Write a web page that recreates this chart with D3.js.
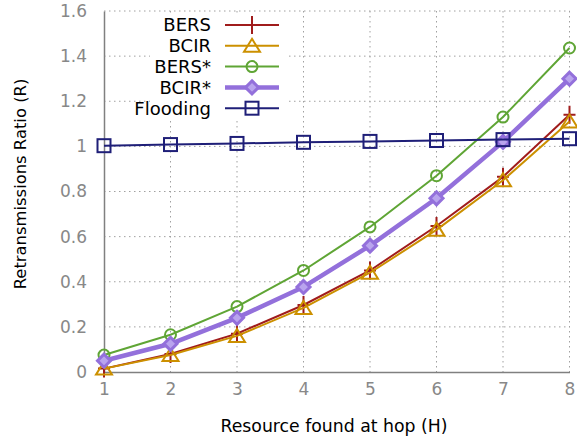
<!DOCTYPE html>
<html><head><meta charset="utf-8">
<script src="https://cdn.jsdelivr.net/npm/d3@7"></script>
<style>body{margin:0;background:#fff}svg{display:block}</style>
</head><body>
<svg id="c" width="577" height="445"></svg>
<script>
const hops = [1,2,3,4,5,6,7,8];
const bers = [0.015,0.08,0.17,0.297,0.45,0.647,0.865,1.14];
const bcir = [0.015,0.075,0.16,0.284,0.44,0.63,0.85,1.11];
const bersStar = [0.075,0.165,0.29,0.45,0.643,0.87,1.13,1.436];
const bcirStar = [0.05,0.125,0.24,0.377,0.56,0.77,1.02,1.30];
const flooding = [1.003,1.008,1.013,1.018,1.022,1.026,1.03,1.034];
const seriesNames = ["BERS","BCIR","BERS*","BCIR*","Flooding"];
const yTicks = [0,0.2,0.4,0.6,0.8,1,1.2,1.4,1.6];
const xTicks = [1,2,3,4,5,6,7,8];

const styles = {
  "BERS":{color:"#a01c1c",w:2,m:"plus"},
  "BCIR":{color:"#cc9000",w:2,m:"tri"},
  "BERS*":{color:"#5fa535",w:2,m:"circ"},
  "BCIR*":{color:"#9370db",w:4.5,m:"diam"},
  "Flooding":{color:"#1f1f78",w:2,m:"sq"}
};
const values = {"BERS":bers,"BCIR":bcir,"BERS*":bersStar,"BCIR*":bcirStar,"Flooding":flooding};

const svg = d3.select("#c");
const L=104,R=569.5,T=11,B=372;
const x = d3.scaleLinear().domain([1,8]).range([L,R]);
const y = d3.scaleLinear().domain([0,1.6]).range([B,T]);
const font = "DejaVu Sans, Verdana, sans-serif";

// grid
const g = svg.append("g");
g.selectAll("line.h").data(yTicks.slice(1)).enter().append("line")
  .attr("x1",L).attr("x2",R).attr("y1",d=>y(d)).attr("y2",d=>y(d))
  .attr("stroke","#a0a0a0").attr("stroke-width",1).attr("stroke-dasharray","1.5,3.5");
g.selectAll("line.v").data(xTicks.slice(1)).enter().append("line")
  .attr("x1",d=>x(d)).attr("x2",d=>x(d)).attr("y1",T).attr("y2",B)
  .attr("stroke","#a0a0a0").attr("stroke-width",1).attr("stroke-dasharray","1.5,3.5");

// legend background
const lgX0=150, lgY0=14;
svg.append("rect").attr("x",lgX0).attr("y",lgY0).attr("width",137).attr("height",104).attr("fill","#fff");

// axes
const xAxis = d3.axisBottom(x).tickValues(xTicks).tickFormat(d3.format("d")).tickSizeInner(0).tickSizeOuter(0).tickPadding(11);
const yAxis = d3.axisLeft(y).tickValues(yTicks).tickFormat(d=>String(d)).tickSizeInner(0).tickSizeOuter(0).tickPadding(17);
const gx = svg.append("g").attr("transform",`translate(0,${B})`).call(xAxis);
const gy = svg.append("g").attr("transform",`translate(${L},0)`).call(yAxis);
[gx,gy].forEach(a=>{
  a.select(".domain").attr("stroke","#808080").attr("stroke-width",1.5);
  a.selectAll("text").attr("fill","#888").attr("font-family",font).attr("font-size",17);
});
gx.selectAll("text").attr("dy","0.71em");

svg.append("text").attr("x",334).attr("y",432).attr("text-anchor","middle")
  .attr("font-family",font).attr("font-size",17.3).attr("fill","#000").text("Resource found at hop (H)");
svg.append("text").attr("transform",`translate(26,184) rotate(-90)`).attr("text-anchor","middle")
  .attr("font-family",font).attr("font-size",16.4).attr("fill","#000").text("Retransmissions Ratio (R)");

function marker(sel, type, color, cx, cy){
  const gg = sel.append("g").attr("transform",`translate(${cx},${cy})`);
  if(type==="plus"){
    gg.append("path").attr("d","M-6,0H6M0,-9V9").attr("stroke",color).attr("stroke-width",2).attr("fill","none");
  } else if(type==="tri"){
    gg.append("path").attr("d","M0,-7L8,6H-8Z").attr("stroke",color).attr("stroke-width",2).attr("fill","none");
  } else if(type==="circ"){
    gg.append("circle").attr("r",5.5).attr("stroke",color).attr("stroke-width",2).attr("fill","none");
  } else if(type==="diam"){
    gg.append("path").attr("d","M0,-6.5L6.5,0L0,6.5L-6.5,0Z").attr("stroke",color).attr("stroke-width",3).attr("fill","#b9a4ee");
  } else if(type==="sq"){
    gg.append("rect").attr("x",-6.5).attr("y",-6.5).attr("width",13).attr("height",13).attr("stroke",color).attr("stroke-width",2).attr("fill","none");
  }
}

const line = d3.line().x((d,i)=>x(hops[i])).y(d=>y(d));
const plot = svg.append("g");
seriesNames.forEach(n=>{
  const s = styles[n];
  plot.append("path").datum(values[n]).attr("d",line).attr("fill","none")
    .attr("stroke",s.color).attr("stroke-width",s.w).attr("stroke-linejoin","round");
  values[n].forEach((v,i)=>marker(plot,s.m,s.color,x(hops[i]),y(v)));
});

// legend
const lg = svg.append("g");
seriesNames.forEach((n,i)=>{
  const s = styles[n];
  const yy = 25 + i*20.8;
  lg.append("text").attr("x",211).attr("y",yy).attr("dy","0.36em").attr("text-anchor","end")
    .attr("font-family",font).attr("font-size",18).attr("fill","#000").text(n);
  lg.append("line").attr("x1",225).attr("x2",279).attr("y1",yy).attr("y2",yy)
    .attr("stroke",s.color).attr("stroke-width",s.w);
  marker(lg,s.m,s.color,252,yy);
});
</script>
</body></html>
